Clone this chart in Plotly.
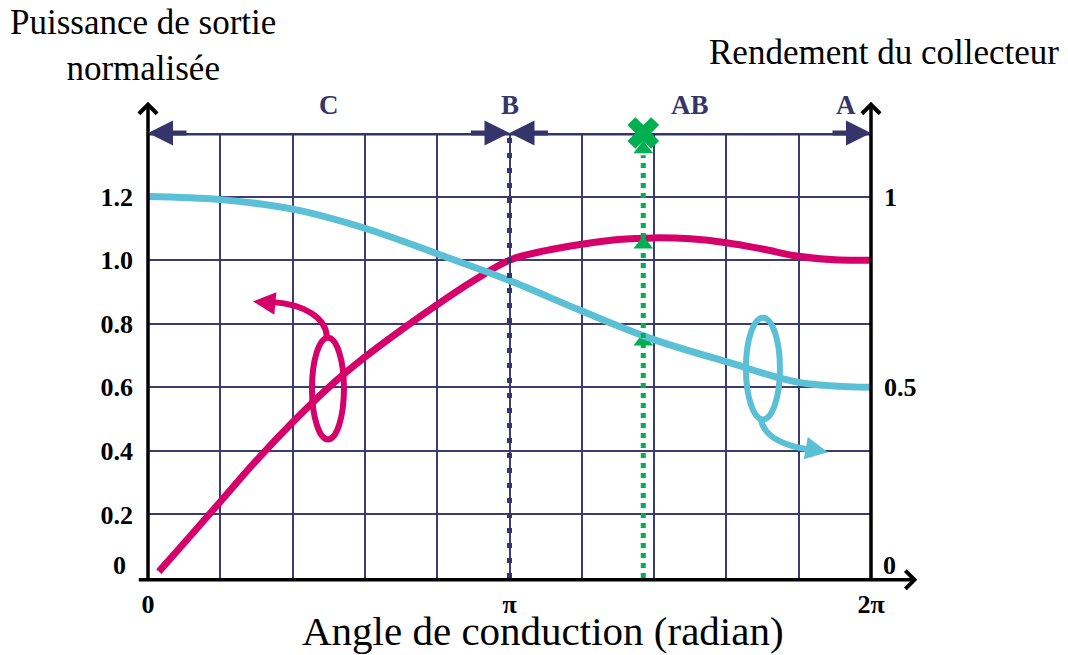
import numpy as np
import plotly.graph_objects as go

PI = np.pi

# conduction angle in units of pi
t_power = [0.03, 0.1, 0.2, 0.3, 0.4, 0.5, 0.6, 0.7, 0.8, 0.9, 1.0,
           1.1, 1.2, 1.3, 1.4, 1.5, 1.6, 1.7, 1.8, 1.9, 2.0]
power = [0.02, 0.11, 0.24, 0.37, 0.49, 0.60, 0.695, 0.78, 0.86, 0.935, 1.0,
         1.03, 1.05, 1.065, 1.07, 1.067, 1.055, 1.035, 1.012, 1.001, 1.0]

t_eff = [0.0, 0.2, 0.4, 0.6, 0.8, 1.0, 1.2, 1.4, 1.6, 1.8, 2.0]
efficiency = [1.0, 0.992, 0.967, 0.917, 0.85, 0.78, 0.70, 0.625, 0.567, 0.513, 0.5]

# class AB operating point
t_ab = 1.37
green_marks = [0.745, 1.05, 1.35]
green_cross = 1.40

x_ticks = [k / 5 for k in range(11)]
x_ticktext = ["0", "", "", "", "", "π", "", "", "", "", "2π"]
y_ticks = [0.0, 0.2, 0.4, 0.6, 0.8, 1.0, 1.2, 1.4]
y_ticktext = ["", "0.2", "0.4", "0.6", "0.8", "1.0", "1.2", ""]
y2_ticks = [0.5, 1.0]
y2_ticktext = ["0.5", "1"]

classes = ["C", "B", "AB", "A"]
class_pos = [0.5, 1.0, 1.5, 1.93]

MAGENTA = "#d6006b"
CYAN = "#5bc0d6"
NAVY = "#35346b"
GREEN = "#00b050"
GRID = "#3c3c74"
SERIF = "Liberation Serif"

fig = go.Figure()
fig.add_trace(go.Scatter(x=[t * PI for t in t_power], y=power, mode="lines",
                         line=dict(color=MAGENTA, width=7, shape="spline"), hoverinfo="skip"))
fig.add_trace(go.Scatter(x=[t * PI for t in t_eff], y=efficiency, mode="lines", yaxis="y2",
                         line=dict(color=CYAN, width=7, shape="spline"), hoverinfo="skip"))
fig.add_trace(go.Scatter(x=[t_ab * PI] * len(green_marks), y=green_marks, mode="markers",
                         marker=dict(symbol="triangle-up", size=17, color=GREEN), cliponaxis=False))
fig.add_trace(go.Scatter(x=[t_ab * PI], y=[green_cross], mode="markers",
                         marker=dict(symbol="x", size=28, color=GREEN), cliponaxis=False))

shapes = [
    dict(type="line", x0=0, x1=2 * PI, y0=1.4, y1=1.4, line=dict(color=NAVY, width=5), layer="between"),
    dict(type="line", x0=PI, x1=PI, y0=0, y1=1.4, line=dict(color=NAVY, width=5, dash="5px,10px")),
    dict(type="line", x0=t_ab * PI, x1=t_ab * PI, y0=0, y1=1.33,
         line=dict(color=GREEN, width=5, dash="5px,5px")),
    # ellipses marking which axis each curve belongs to
    dict(type="circle", x0=1.425, x1=1.703, y0=0.436, y1=0.756, line=dict(color=MAGENTA, width=6)),
    dict(type="circle", x0=5.196, x1=5.492, y0=0.499, y1=0.819, line=dict(color=CYAN, width=6)),
    dict(type="path", path="M1.556,0.757 C1.547,0.819 1.364,0.860 1.080,0.868",
         line=dict(color=MAGENTA, width=6)),
    dict(type="path", path="M5.327,0.499 C5.353,0.443 5.536,0.414 5.750,0.404",
         line=dict(color=CYAN, width=6)),
]

ann = []
# black axes with open arrow heads
for xp in [0, 1]:
    ann.append(dict(xref="paper", yref="paper", x=xp, y=1.07, ax=0, ay=480, axref="pixel", ayref="pixel",
                    showarrow=True, arrowhead=4, arrowwidth=3.5, arrowsize=1, arrowcolor="black",
                    text="", standoff=0))
ann.append(dict(xref="paper", yref="paper", x=1.064, y=-0.004, ax=-780, ay=0, showarrow=True,
                arrowhead=4, arrowwidth=3.5, arrowsize=1, arrowcolor="black", text="", standoff=0))
# navy arrow heads on the class band
for hx, off in [(0, 40), (PI, -40), (PI, 40), (2 * PI, -40)]:
    ann.append(dict(x=hx, y=1.4, ax=off, ay=0, showarrow=True, arrowhead=2, arrowwidth=5,
                    arrowsize=1.0, arrowcolor=NAVY, text="", standoff=0))
# curly arrow heads
ann.append(dict(x=0.912, y=0.870, ax=22, ay=2, showarrow=True, arrowhead=2, arrowwidth=6,
                arrowsize=0.75, arrowcolor=MAGENTA, text="", standoff=0))
ann.append(dict(x=5.909, y=0.396, ax=-22, ay=-4, showarrow=True, arrowhead=2, arrowwidth=6,
                arrowsize=0.75, arrowcolor=CYAN, text="", standoff=0))


def label(x, y, text, font, xref="paper", yref="paper"):
    return dict(xref=xref, yref=yref, x=x, y=y, text=text, showarrow=False,
                xanchor="center", yanchor="middle", font=font)


for lab, pos in zip(classes, class_pos):
    ann.append(label(pos * PI, 1.063, lab, dict(family=SERIF, size=27, weight="bold", color=NAVY), xref="x"))

bold = dict(family=SERIF, size=26, weight="bold", color="black")
ann.append(label(-0.039, 0.029, "0", bold))
ann.append(label(1.025, 0.029, "0", bold))

ann.append(label(-0.007, 1.196, "Puissance de sortie<br>normalisée", dict(family=SERIF, size=35, color="black")))
ann.append(label(1.018, 1.182, "Rendement du collecteur", dict(family=SERIF, size=35, color="black")))
ann.append(label(0.546, -0.119, "Angle de conduction (radian)", dict(family=SERIF, size=41, color="black")))

fig.update_layout(
    width=1068, height=655,
    margin=dict(l=148, r=197, t=133, b=77),
    paper_bgcolor="white", plot_bgcolor="white",
    showlegend=False, hovermode=False,
    xaxis=dict(range=[0, 2 * PI], tickvals=[t * PI for t in x_ticks], ticktext=x_ticktext,
               showgrid=True, gridcolor=GRID, gridwidth=1.5, zeroline=False, showline=False,
               ticks="", ticklabelstandoff=8, tickfont=bold),
    yaxis=dict(range=[0, 1.4], tickvals=y_ticks, ticktext=y_ticktext,
               showgrid=True, gridcolor=GRID, gridwidth=1.5, zeroline=False, showline=False,
               ticks="", ticklabelstandoff=14, tickfont=bold),
    yaxis2=dict(range=[0, 1.4 / 1.2], overlaying="y", side="right", tickvals=y2_ticks,
                ticktext=y2_ticktext, showgrid=False, zeroline=False, showline=False,
                ticks="", ticklabelstandoff=12, tickfont=bold),
    shapes=shapes,
    annotations=ann,
)

fig.write_html("out.html", config={"displayModeBar": False},
               post_script="document.body.style.margin='0';")
